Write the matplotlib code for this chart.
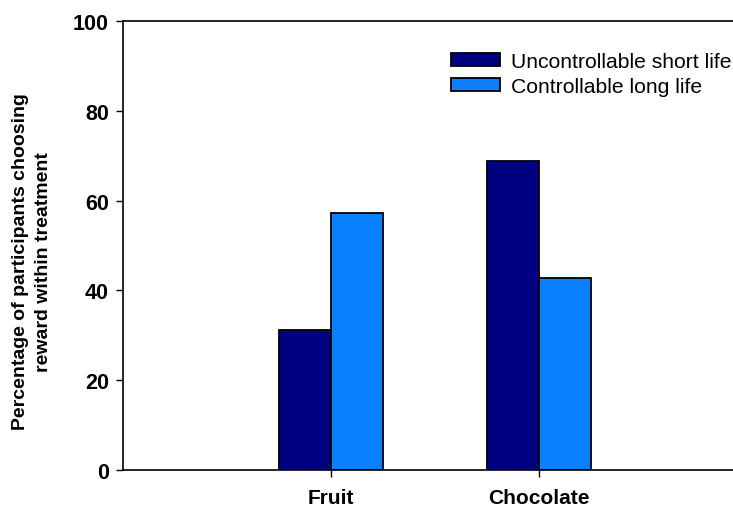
import matplotlib
matplotlib.use("Agg")
import matplotlib.pyplot as plt
import numpy as np

categories = ["Fruit", "Chocolate"]
series_names = ["Uncontrollable short life", "Controllable long life"]
uncontrollable = [31.25, 68.75]
controllable = [57.14, 42.86]
yticks = [0, 20, 40, 60, 80, 100]

plt.rcParams['font.family'] = ['Liberation Sans', 'DejaVu Sans']

W, H = 733, 510
fig = plt.figure(figsize=(W / 100, H / 100), dpi=100)
left, right, bottom, top = 123, 733, 471, 22
ax = fig.add_axes([left / W, 1 - bottom / H, (right - left) / W, (bottom - top) / H])

x = np.arange(len(categories))
bw = 0.25
ax.bar(x - bw / 2, uncontrollable, bw, color="#000080", edgecolor="black", linewidth=1.3,
       label=series_names[0])
ax.bar(x + bw / 2, controllable, bw, color="#0a80ff", edgecolor="black", linewidth=1.3,
       label=series_names[1])

ax.set_xlim(-1, 1.933)
ax.set_ylim(0, 100)
ax.set_yticks(yticks)
ax.set_yticklabels([str(v) for v in yticks])
ax.set_xticks(x)
ax.set_xticklabels(categories)
for lab in ax.get_yticklabels():
    lab.set_fontweight("bold")
    lab.set_fontsize(15.5)
for lab in ax.get_xticklabels():
    lab.set_fontweight("bold")
    lab.set_fontsize(15)
ax.tick_params(axis="y", direction="out", length=5, width=1.0, pad=5)
ax.tick_params(axis="x", direction="out", length=5, width=1.0, pad=8)

ax.spines["right"].set_visible(False)
for s in ["left", "top", "bottom"]:
    ax.spines[s].set_linewidth(1.2)

fig.text(32 / W, 1 - 262 / H,
         "Percentage of participants choosing\nreward within treatment",
         rotation=90, ha="center", va="center", multialignment="center",
         fontsize=14, fontweight="bold", linespacing=1.4)

leg = ax.legend(loc="upper left", bbox_to_anchor=(451 / W, 1 - 53 / H),
                bbox_transform=fig.transFigure, frameon=False, fontsize=15.2,
                handlelength=2.3, handleheight=0.57, handletextpad=0.55,
                labelspacing=0.3, borderpad=0, borderaxespad=0)
for h in leg.legend_handles:
    h.set_linewidth(1.3)

fig.savefig("out.png", dpi=100)
